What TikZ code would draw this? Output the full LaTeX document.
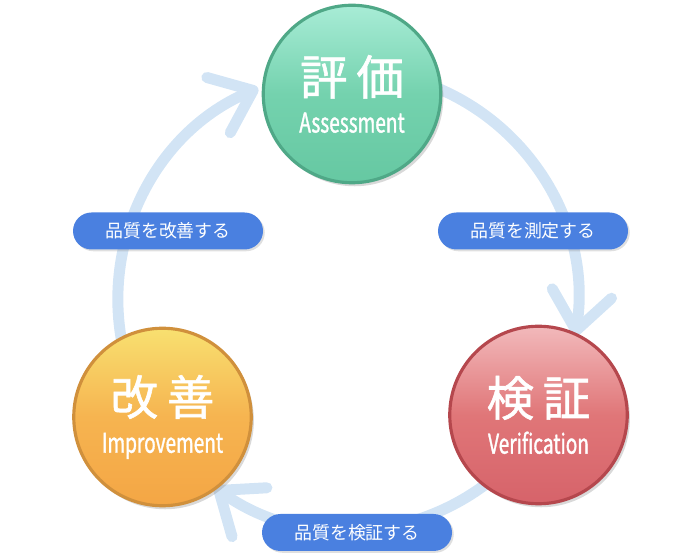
\documentclass[tikz,border=0pt]{standalone}
\usepackage{fontspec}
\usepackage{tikz}
\usetikzlibrary{arrows.meta, positioning, calc, shadows, shapes.misc}
\setmainfont{Noto Sans CJK JP}
\newfontfamily\jpfont{Noto Sans CJK JP}
\newfontfamily\jpmedium[FakeBold=1.2]{Noto Sans CJK JP}
\newfontfamily\condfont[FakeStretch=0.7, FakeBold=1.2]{Noto Sans CJK JP}
\definecolor{cycleblue}{RGB}{210,228,245}
\definecolor{pillblue}{RGB}{74,128,224}
\definecolor{evaltop}{RGB}{168,236,214}
\definecolor{evalmid}{RGB}{116,210,174}
\definecolor{evalbot}{RGB}{102,200,162}
\definecolor{evalrim}{RGB}{79,168,135}
\definecolor{veriftop}{RGB}{242,185,187}
\definecolor{verifmid}{RGB}{224,118,120}
\definecolor{verifbot}{RGB}{214,99,106}
\definecolor{verifrim}{RGB}{181,71,77}
\definecolor{imprtop}{RGB}{248,224,112}
\definecolor{imprmid}{RGB}{246,180,80}
\definecolor{imprbot}{RGB}{244,166,69}
\definecolor{imprrim}{RGB}{208,144,60}

\begin{document}
\begin{tikzpicture}[
  stage/.style={circle, minimum size=3.55cm, line width=1.8pt,
    text=white, align=center, inner sep=0pt,
    font=\condfont\fontsize{15.5}{21.5}\selectfont,
    drop shadow={shadow xshift=1.5pt, shadow yshift=-2pt, opacity=0.3}},
  pill/.style={rounded rectangle, fill=pillblue, text=white,
    minimum width=3.8cm, minimum height=0.74cm, inner sep=0pt,
    font=\jpfont\fontsize{10.2}{12}\selectfont,
    drop shadow={shadow xshift=1pt, shadow yshift=-1pt, opacity=0.25}},
  cyc/.style={cycleblue, line width=0.22cm, line cap=round,
    -{Straight Barb[length=0.75cm, width=1.2cm, round]}}
]
\newcommand{\stagename}[1]{{\jpmedium\fontsize{27}{27}\selectfont #1}}
\useasboundingbox (0,0) rectangle (14,11.2);

% Cycle arcs
\coordinate (hub) at (6.96,5.2);
\draw[cyc] ([shift={(70:4.6)}]hub) arc[start angle=70, end angle=-9, radius=4.6];
\draw[cyc] ([shift={(-45:4.6)}]hub) arc[start angle=-45, end angle=-125.5, radius=4.6];
\draw[cyc] ([shift={(200:4.6)}]hub) arc[start angle=200, end angle=113, radius=4.6];

% Stages
\node[stage, draw=evalrim, top color=evaltop, bottom color=evalbot, middle color=evalmid]
  (eval) at (7.04,9.32) {\stagename{評\hspace{5pt}価}\\Assessment};
\node[stage, draw=verifrim, top color=veriftop, bottom color=verifbot, middle color=verifmid]
  (verif) at (10.77,2.9) {\stagename{検\hspace{5pt}証}\\Verification};
\node[stage, draw=imprrim, top color=imprtop, bottom color=imprbot, middle color=imprmid]
  (impr) at (3.25,2.86) {\stagename{改\hspace{5pt}善}\\Improvement};

% Labels
\node[pill] (measure) at (10.66,6.58) {品質を測定する};
\node[pill] (check) at (7.14,0.55) {品質を検証する};
\node[pill] (improve) at (3.36,6.58) {品質を改善する};
\end{tikzpicture}
\end{document}
